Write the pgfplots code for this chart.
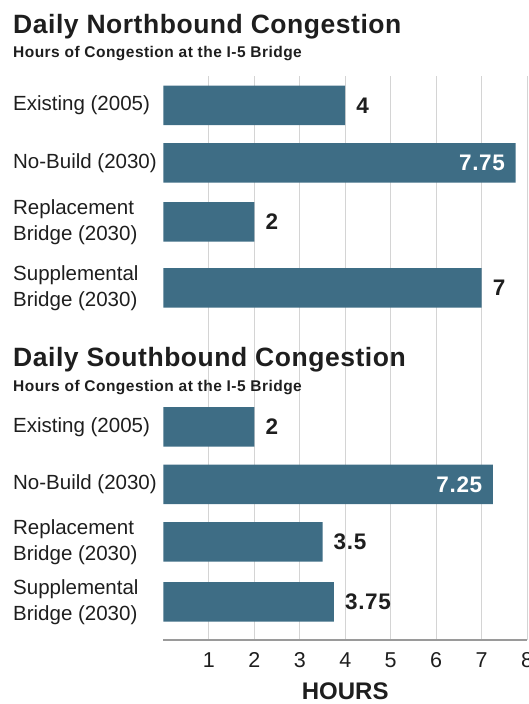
\documentclass[border=0pt]{standalone}
\usepackage{fontspec}
\setmainfont{Liberation Sans}
\usepackage{pgfplots}
\pgfplotsset{compat=1.18}

\definecolor{barblue}{HTML}{3E6D85}
\definecolor{gridgray}{HTML}{D4D4D4}
\definecolor{axisgray}{HTML}{9A9A9A}
\definecolor{txt}{HTML}{1E1E1E}

% bar centres are given as distance (pt) above the bottom axis line
\pgfplotstableread{
val pos
4    534.5
2    418
7    352
2    213
3.5  98
3.75 38
}\outsidebars
\pgfplotstableread{
val pos
7.75 477
7.25 155.5
}\insidebars

\begin{document}
\begin{tikzpicture}[x=1pt,y=1pt]
\useasboundingbox (0,0) rectangle (528,704);
\begin{axis}[
    at={(163.5pt,64pt)}, anchor=south west,
    scale only axis, width=363.5pt, height=564pt,
    xmin=0, xmax=8, ymin=0, ymax=564,
    xbar, bar width=39.5pt, bar shift=0pt,
    axis x line*=bottom, axis y line*=left,
    x axis line style={draw=axisgray, line width=1.6pt, -},
    y axis line style={draw=none},
    xtick={1,...,8},
    xmajorgrids, grid style={gridgray, line width=0.9pt},
    major tick length=0pt,
    xtick style={draw=none}, ytick style={draw=none},
    /pgf/number format/assume math mode=true,
    xticklabel style={font=\fontsize{21.5}{21.5}\selectfont, text=txt,
        inner sep=0pt, anchor=north, yshift=-12.7pt},
    ytick={38,98,155.5,213,352,418,477,534.5},
    yticklabels={{Supplemental\\Bridge (2030)},{Replacement\\Bridge (2030)},
        {No-Build (2030)},{Existing (2005)},
        {Supplemental\\Bridge (2030)},{Replacement\\Bridge (2030)},
        {No-Build (2030)},{Existing (2005)}},
    yticklabel style={anchor=west, align=left, inner sep=0pt, xshift=-150.5pt,
        font=\fontsize{20.5}{26.5}\selectfont, text=txt},
    xlabel={HOURS},
    xlabel style={at={(axis description cs:0.5,0)}, anchor=base, inner sep=0pt,
        yshift=-59.5pt, font=\fontsize{24}{24}\selectfont\bfseries, text=txt},
    clip=false,
]
\addplot[fill=barblue, draw=none,
    nodes near coords,
    nodes near coords style={anchor=west, inner sep=0pt, xshift=11pt,
        font=\fontsize{22.5}{22.5}\selectfont\bfseries\addfontfeature{LetterSpace=3}, text=txt}]
    table[x=val, y=pos] {\outsidebars};
\addplot[fill=barblue, draw=none,
    nodes near coords,
    nodes near coords style={anchor=east, inner sep=0pt, xshift=-10.5pt,
        font=\fontsize{22.5}{22.5}\selectfont\bfseries\addfontfeature{LetterSpace=3}, text=white}]
    table[x=val, y=pos] {\insidebars};
\end{axis}

\node[anchor=base west, inner sep=0pt, text=txt,
    font=\fontsize{26.5}{26.5}\selectfont\bfseries\addfontfeature{LetterSpace=2}]
    at (13,670.7) {Daily Northbound Congestion};
\node[anchor=base west, inner sep=0pt, text=txt,
    font=\fontsize{15.5}{15.5}\selectfont\bfseries\addfontfeature{LetterSpace=3}]
    at (13,646.7) {Hours of Congestion at the I-5 Bridge};
\node[anchor=base west, inner sep=0pt, text=txt,
    font=\fontsize{26.5}{26.5}\selectfont\bfseries\addfontfeature{LetterSpace=2}]
    at (13,337.3) {Daily Southbound Congestion};
\node[anchor=base west, inner sep=0pt, text=txt,
    font=\fontsize{15.5}{15.5}\selectfont\bfseries\addfontfeature{LetterSpace=3}]
    at (13,312.3) {Hours of Congestion at the I-5 Bridge};
\end{tikzpicture}
\end{document}
